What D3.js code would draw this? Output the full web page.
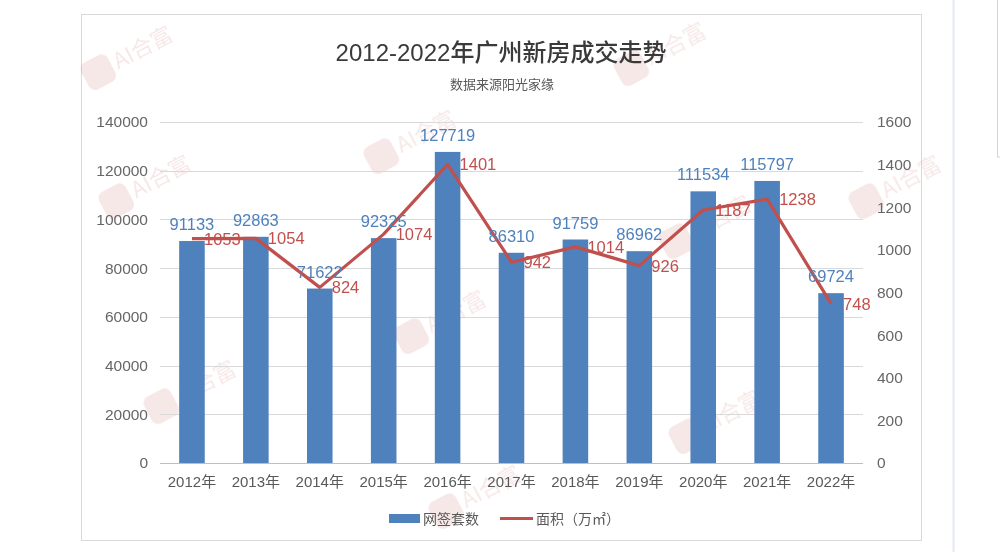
<!DOCTYPE html>
<html>
<head>
<meta charset="utf-8">
<script src="https://cdn.jsdelivr.net/npm/d3@7"></script>
<style>
  html, body { margin: 0; padding: 0; background: #fff; }
  svg { display: block; }
</style>
</head>
<body>
<div id="chart"></div>
<script>
// chart data
const years = ['2012年', '2013年', '2014年', '2015年', '2016年', '2017年', '2018年', '2019年', '2020年', '2021年', '2022年'];
const units = [91133, 92863, 71622, 92325, 127719, 86310, 91759, 86962, 111534, 115797, 69724];
const area = [1053, 1054, 824, 1074, 1401, 942, 1014, 926, 1187, 1238, 748];
const leftTicks = [0, 20000, 40000, 60000, 80000, 100000, 120000, 140000];
const rightTicks = [0, 200, 400, 600, 800, 1000, 1200, 1400, 1600];

const W = 1000, H = 552;
const numFont = '"Liberation Sans", Arial, sans-serif';
const cjkFont = '"Liberation Sans", "Noto Sans CJK SC", sans-serif';
const blue = '#4f81bd', red = '#c0504d';

const svg = d3.select('#chart').append('svg')
  .attr('width', W).attr('height', H);

// page decoration: right panel line and box
svg.append('line')
  .attr('x1', 953.5).attr('x2', 953.5).attr('y1', 0).attr('y2', H)
  .attr('stroke', '#e4e8f6').attr('stroke-width', 2);
svg.append('rect')
  .attr('x', 997.5).attr('y', -2).attr('width', 20).attr('height', 159)
  .attr('fill', '#fff').attr('stroke', '#d4d4d4');

// chart card
svg.append('rect')
  .attr('x', 81.5).attr('y', 14.5).attr('width', 840).attr('height', 526)
  .attr('fill', '#fff').attr('stroke', '#d9d9d9');

// watermarks
const marks = [[112, 66], [645, 62], [395, 150], [130, 195], [425, 330], [690, 235], [880, 195], [175, 400], [700, 430], [460, 505]];
const wm = svg.append('g').attr('opacity', 0.13);
marks.forEach(([mx, my]) => {
  const g = wm.append('g').attr('transform', `translate(${mx},${my}) rotate(-28)`);
  g.append('rect').attr('x', -30).attr('y', -16).attr('width', 30).attr('height', 30)
    .attr('rx', 7).attr('fill', '#c0504d');
  g.append('text').attr('x', 4).attr('y', 6)
    .attr('font-family', '"Noto Sans CJK SC", sans-serif').attr('font-size', 22)
    .attr('fill', '#c0504d').text('AI合富');
});

// scales
const margin = { left: 160, right: 863, top: 122, bottom: 463 };
const x = d3.scaleBand().domain(years).range([margin.left, margin.right]);
const yL = d3.scaleLinear().domain([0, 140000]).range([margin.bottom, margin.top]);
const yR = d3.scaleLinear().domain([0, 1600]).range([margin.bottom, margin.top]);

// title
svg.append('text')
  .attr('x', 501).attr('y', 61).attr('text-anchor', 'middle')
  .attr('font-family', cjkFont).attr('font-size', 24).attr('font-weight', 500)
  .attr('fill', '#3a3a3a').text('2012-2022年广州新房成交走势');
svg.append('text')
  .attr('x', 502).attr('y', 89).attr('text-anchor', 'middle')
  .attr('font-family', cjkFont).attr('font-size', 13)
  .attr('fill', '#595959').text('数据来源阳光家缘');

// gridlines
svg.append('g')
  .selectAll('line').data(leftTicks).join('line')
  .attr('x1', margin.left).attr('x2', margin.right)
  .attr('y1', d => Math.round(yL(d)) + 0.5).attr('y2', d => Math.round(yL(d)) + 0.5)
  .attr('stroke', d => d === 0 ? '#bfbfbf' : '#d9d9d9');

// left axis
const axL = svg.append('g')
  .attr('transform', `translate(${margin.left},0)`)
  .call(d3.axisLeft(yL).tickValues(leftTicks).tickSize(0).tickPadding(12).tickFormat(d3.format('d')));
axL.select('.domain').remove();
axL.selectAll('text').attr('font-family', numFont).attr('font-size', 15.5).attr('fill', '#666');

// right axis
const axR = svg.append('g')
  .attr('transform', `translate(${margin.right},0)`)
  .call(d3.axisRight(yR).tickValues(rightTicks).tickSize(0).tickPadding(14).tickFormat(d3.format('d')));
axR.select('.domain').remove();
axR.selectAll('text').attr('font-family', numFont).attr('font-size', 15.5).attr('fill', '#666');

// x axis
const axX = svg.append('g')
  .attr('transform', `translate(0,${margin.bottom})`)
  .call(d3.axisBottom(x).tickSize(0).tickPadding(13));
axX.select('.domain').remove();
axX.selectAll('text').attr('font-family', cjkFont).attr('font-size', 15).attr('fill', '#595959');

// bars
const bw = x.bandwidth() / 2.5;
svg.append('g')
  .selectAll('rect').data(units).join('rect')
  .attr('x', (d, i) => x(years[i]) + x.bandwidth() / 2 - bw / 2)
  .attr('y', d => yL(d))
  .attr('width', bw)
  .attr('height', d => yL(0) - yL(d))
  .attr('fill', blue);

// line
const line = d3.line()
  .x((d, i) => x(years[i]) + x.bandwidth() / 2)
  .y(d => yR(d));
svg.append('path')
  .datum(area)
  .attr('fill', 'none').attr('stroke', red).attr('stroke-width', 3.2)
  .attr('stroke-linejoin', 'round')
  .attr('d', line);

// bar labels
svg.append('g')
  .selectAll('text').data(units).join('text')
  .attr('x', (d, i) => x(years[i]) + x.bandwidth() / 2)
  .attr('y', d => yL(d) - 11)
  .attr('text-anchor', 'middle')
  .attr('font-family', numFont).attr('font-size', 16.5)
  .attr('fill', blue).text(d => d);

// line labels
svg.append('g')
  .selectAll('text').data(area).join('text')
  .attr('x', (d, i) => x(years[i]) + x.bandwidth() / 2 + 12)
  .attr('y', d => yR(d) + 6)
  .attr('font-family', numFont).attr('font-size', 16.5)
  .attr('fill', red).text(d => d);

// legend
const lg = svg.append('g').attr('font-family', cjkFont).attr('font-size', 14).attr('fill', '#595959');
lg.append('rect').attr('x', 389).attr('y', 514).attr('width', 31).attr('height', 9).attr('fill', blue);
lg.append('text').attr('x', 423).attr('y', 524).text('网签套数');
lg.append('line').attr('x1', 500).attr('x2', 533).attr('y1', 518.5).attr('y2', 518.5)
  .attr('stroke', red).attr('stroke-width', 3);
lg.append('text').attr('x', 536).attr('y', 524).text('面积（万㎡）');
</script>
</body>
</html>
